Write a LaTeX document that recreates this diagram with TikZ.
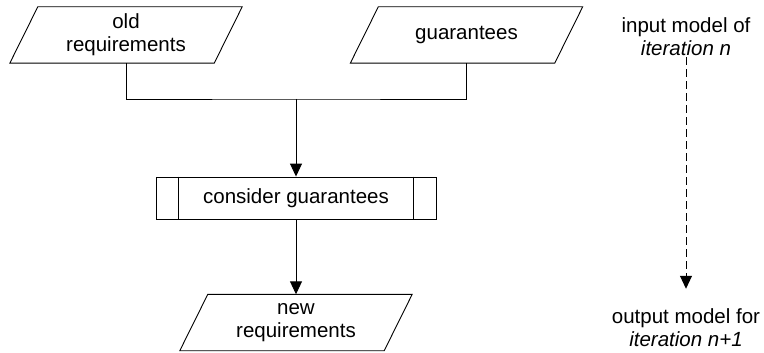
\documentclass[tikz,border=0pt]{standalone}
\usepackage{fontspec}
\setmainfont{Liberation Sans}
\usetikzlibrary{arrows.meta}
\begin{document}
\begin{tikzpicture}[x=1pt,y=-1pt,
  every node/.style={font=\fontsize{20.5}{23}\selectfont, align=center, inner sep=0pt},
  line/.style={line width=0.9pt, black},
  databox/.style={minimum width=204pt, minimum height=56pt},
  procbox/.style={draw, line width=0.9pt, minimum width=280pt, minimum height=42pt},
  flow/.style={line, -{Triangle[width=12pt,length=13pt]}},
  iterflow/.style={flow, dash pattern=on 8pt off 4pt}
]
\useasboundingbox (0,0) rectangle (764,353);

% input and output data
\node[databox] (oldreq) at (126,35) {old\\requirements};
\node[databox] (guar) at (466.5,35) {guarantees};
\node[databox] (newreq) at (296,322.5) {new\\requirements};
\foreach \n in {oldreq,guar,newreq}
  \draw[line] ([xshift=14pt]\n.north west) -- ([xshift=14pt]\n.north east)
    -- ([xshift=-14pt]\n.south east) -- ([xshift=-14pt]\n.south west) -- cycle;

% predefined process
\node[procbox] (proc) at (296,198) {consider guarantees};
\draw[line] ([xshift=23pt]proc.north west) -- ([xshift=23pt]proc.south west);
\draw[line] ([xshift=-23pt]proc.north east) -- ([xshift=-23pt]proc.south east);

% merging the inputs
\coordinate (join) at (296,99);
\draw[line] (oldreq.south) |- (join) -| (guar.south);
\draw[flow] (join) -- (proc.north);
\draw[flow] (proc.south) -- (newreq.north);

% iteration legend
\node (inmodel) at (686,37) {input model of\\\textit{iteration n}};
\node (outmodel) at (686,328) {output model for\\\textit{iteration n+1}};
\draw[iterflow] ([yshift=-1pt]inmodel.south) -- ([yshift=20pt]outmodel.north);
\end{tikzpicture}
\end{document}
